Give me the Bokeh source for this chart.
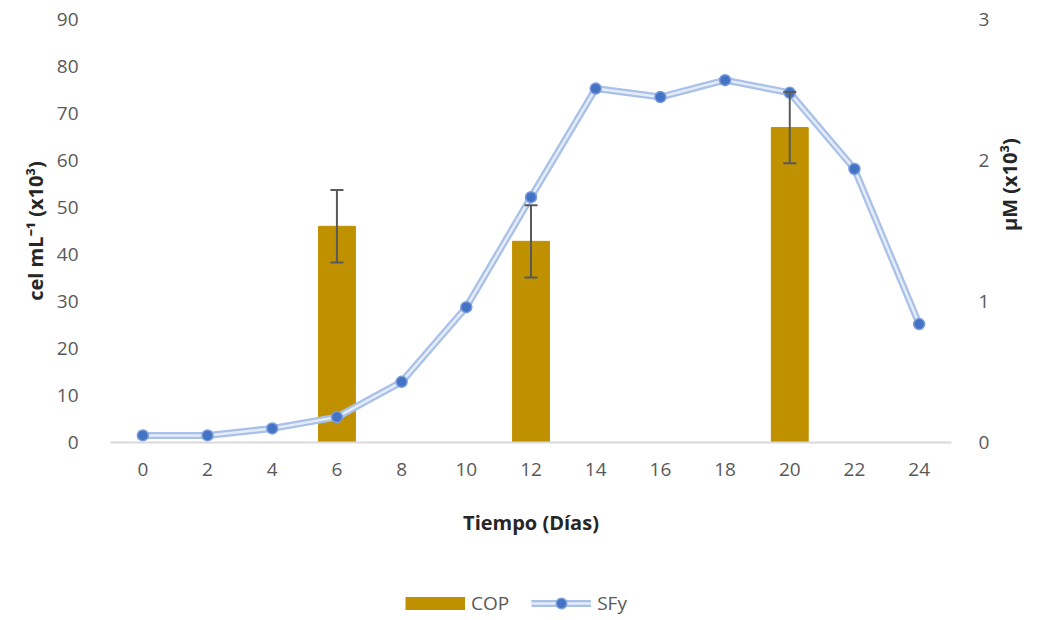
import math
from bokeh.plotting import figure
from bokeh.layouts import column
from bokeh.models import (Range1d, LinearAxis, ColumnDataSource, Whisker, TeeHead,
                          Legend, LegendItem, FixedTicker)
from bokeh.embed import file_html
from bokeh.resources import INLINE

# ---- data ----
days = [0, 2, 4, 6, 8, 10, 12, 14, 16, 18, 20, 22, 24]
sfy = [0.05, 0.05, 0.10, 0.18, 0.43, 0.96, 1.74, 2.51, 2.45, 2.57, 2.48, 1.94, 0.84]
cop_days = [6, 12, 20]
cop = [46.0, 42.8, 67.0]
cop_err = [7.7, 7.7, 7.6]
left_ticks = [0, 10, 20, 30, 40, 50, 60, 70, 80, 90]
right_ticks = [0, 1, 2, 3]
series_names = ["COP", "SFy"]

FONT = "Open Sans"
GREY = "#595959"
DARK = "#262626"
BAR = "#bf9000"
LINE_OUT = "#a9c0e8"
LINE_IN = "#e4ecf8"
MARK = "#4472c4"
MARK_EDGE = "#7b9ddb"

p = figure(width=1041, height=545, x_range=Range1d(-1, 25), y_range=Range1d(0, 90),
           output_backend="svg", toolbar_location=None,
           min_border_left=110, min_border_right=90, min_border_top=19, min_border_bottom=103)
p.extra_y_ranges = {"right": Range1d(0, 3)}
p.xgrid.visible = False
p.ygrid.visible = False
p.outline_line_color = None

right = LinearAxis(y_range_name="right")
p.add_layout(right, "right")

# bottom axis
xa = p.below[0]
xa.ticker = FixedTicker(ticks=days)
xa.axis_line_color = "#d9d9d9"
xa.axis_line_width = 2
xa.major_tick_line_color = None
xa.minor_tick_line_color = None
xa.major_label_standoff = 14
xa.major_label_text_font = FONT
xa.major_label_text_font_size = "19px"
xa.major_label_text_color = GREY
xa.axis_label = "Tiempo (Días)"
xa.axis_label_text_font = FONT
xa.axis_label_text_font_style = "bold"
xa.axis_label_text_font_size = "20px"
xa.axis_label_text_color = DARK
xa.axis_label_standoff = 30

# left axis
ya = p.left[0]
ya.ticker = FixedTicker(ticks=left_ticks)
ya.axis_line_color = None
ya.major_tick_line_color = None
ya.minor_tick_line_color = None
ya.major_label_standoff = 26
ya.major_label_text_font = FONT
ya.major_label_text_font_size = "19px"
ya.major_label_text_color = GREY
ya.axis_label = "cel mL\u207b\u00b9 (x10\u00b3)"
ya.axis_label_text_font = FONT
ya.axis_label_text_font_style = "bold"
ya.axis_label_text_font_size = "20px"
ya.axis_label_text_color = DARK
ya.axis_label_standoff = 5

# right axis
right.ticker = FixedTicker(ticks=right_ticks)
right.axis_line_color = None
right.major_tick_line_color = None
right.minor_tick_line_color = None
right.major_label_standoff = 21
right.major_label_text_font = FONT
right.major_label_text_font_size = "19px"
right.major_label_text_color = GREY
right.axis_label = "\u00b5M (x10\u00b3)"
right.axis_label_text_font = FONT
right.axis_label_text_font_style = "bold"
right.axis_label_text_font_size = "20px"
right.axis_label_text_color = DARK
right.axis_label_standoff = 17
if "axis_label_orientation" in right.properties():
    right.axis_label_orientation = math.pi / 2

# bars
bars = p.vbar(x=cop_days, top=cop, width=1.14, fill_color=BAR, line_color=BAR)

# error bars
src = ColumnDataSource(dict(base=cop_days,
                            upper=[c + e for c, e in zip(cop, cop_err)],
                            lower=[c - e for c, e in zip(cop, cop_err)]))
w = Whisker(base="base", upper="upper", lower="lower", source=src,
            line_color=GREY, line_width=2, level="glyph",
            upper_head=TeeHead(size=13, line_color=GREY, line_width=2),
            lower_head=TeeHead(size=13, line_color=GREY, line_width=2))
p.add_layout(w)

# line SFy
p.line(days, sfy, y_range_name="right", line_width=7, line_color=LINE_OUT)
p.line(days, sfy, y_range_name="right", line_width=2.5, line_color=LINE_IN)
p.scatter(days, sfy, y_range_name="right", size=11, fill_color=MARK,
          line_color=MARK_EDGE, line_width=1.5)

# ---- legend strip below the chart (its own glyphs lie outside its visible range) ----
lg = figure(width=1041, height=75, x_range=Range1d(1000, 1001), y_range=Range1d(1000, 1001),
            output_backend="svg", toolbar_location=None,
            x_axis_type=None, y_axis_type=None,
            min_border_left=0, min_border_right=0, min_border_top=0, min_border_bottom=0)
lg.grid.visible = False
lg.outline_line_color = None
k_cop = lg.line(x=cop_days, y=cop, line_width=13, line_color=BAR)
k_l1 = lg.line(x=days, y=sfy, line_width=7, line_color=LINE_OUT)
k_l2 = lg.line(x=days, y=sfy, line_width=2.5, line_color=LINE_IN)
k_sc = lg.scatter(x=days, y=sfy, size=11, fill_color=MARK, line_color=MARK_EDGE, line_width=1.5)

legend = Legend(items=[LegendItem(label=series_names[0], renderers=[k_cop]),
                       LegendItem(label=series_names[1], renderers=[k_l1, k_l2, k_sc])],
                location=(295, 4), orientation="horizontal",
                glyph_width=60, glyph_height=26, label_height=20,
                label_text_font=FONT, label_text_font_size="19px", label_text_color=GREY,
                border_line_color=None, background_fill_alpha=0,
                padding=0, spacing=22, label_standoff=6, margin=0)
lg.add_layout(legend)

layout = column(p, lg, spacing=0)
open("out.html", "w").write(file_html(layout, INLINE))
